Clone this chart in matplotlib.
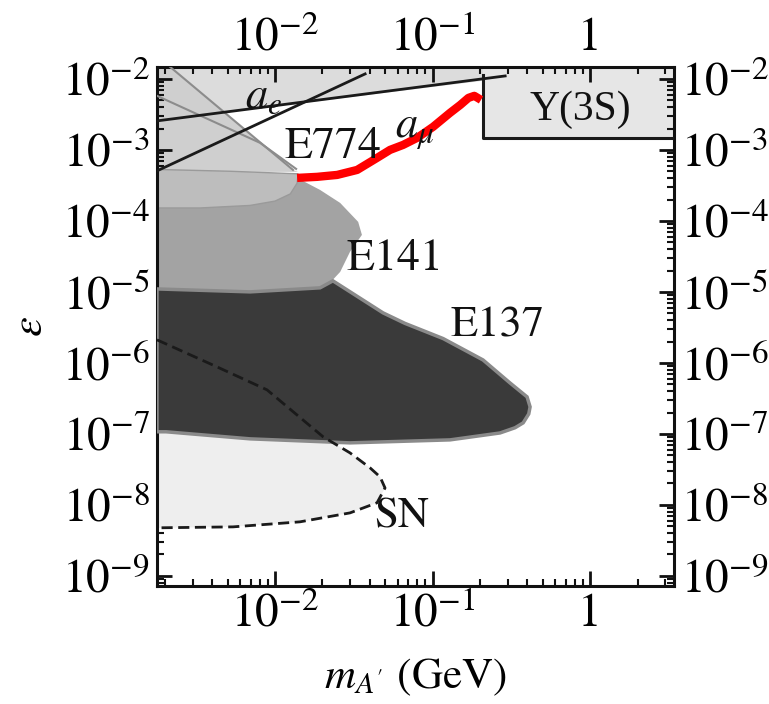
import matplotlib
matplotlib.use('Agg')
import matplotlib.pyplot as plt
from matplotlib.ticker import LogLocator, FixedLocator, FixedFormatter, NullFormatter

plt.rcParams['mathtext.fontset'] = 'stix'
plt.rcParams['font.family'] = ['STIXGeneral', 'DejaVu Serif']

# ---------------- data (m_A' in GeV, epsilon) ----------------
x_limits = [0.00178, 3.41]
y_limits = [7.2e-10, 0.0147]

x_ticks = [0.01, 0.1, 1.0]
x_ticklabels = [r'$10^{-2}$', r'$10^{-1}$', '1']
y_ticks = [1e-2, 1e-3, 1e-4, 1e-5, 1e-6, 1e-7, 1e-8, 1e-9]
y_ticklabels = [r'$10^{-2}$', r'$10^{-3}$', r'$10^{-4}$', r'$10^{-5}$',
                r'$10^{-6}$', r'$10^{-7}$', r'$10^{-8}$', r'$10^{-9}$']

# a_mu line and band above it
amu_m = [0.00178, 0.289]
amu_eps = [0.00256, 0.0110]
amu_band_m = [0.00178, 0.209, 0.209, 0.00178]
amu_band_eps = [0.0147, 0.0147, 0.0094, 0.00256]

# a_e line and region
ae_m = [0.00178, 0.0373]
ae_eps = [5.06e-4, 0.01175]
ae_region_m = [0.00178, 0.00216, 0.0130, 0.0140, 0.00178]
ae_region_eps = [0.0147, 0.0147, 5.22e-4, 4.9e-4, 4.9e-4]
ae_gray1_m = [0.00216, 0.0130]
ae_gray1_eps = [0.0147, 5.22e-4]
ae_gray2_m = [0.00178, 0.00803, 0.0136]
ae_gray2_eps = [5.77e-3, 1.256e-3, 5.4e-4]

# E774
e774_m = [0.00178, 0.00518, 0.0140, 0.0138, 0.0125, 0.0100, 0.00694, 0.00334, 0.00178]
e774_eps = [5.3e-4, 5.0e-4, 4.6e-4, 3.4e-4, 2.4e-4, 1.9e-4, 1.65e-4, 1.52e-4, 1.52e-4]

# E141
e141_m = [0.00178, 0.0060, 0.0138, 0.0193, 0.0259, 0.0337, 0.0356, 0.0299,
          0.0259, 0.0223, 0.0167, 0.00694, 0.00178]
e141_eps = [2.73e-4, 2.32e-4, 4.03e-4, 2.73e-4, 1.79e-4, 9.68e-5, 6.35e-5, 3.66e-5,
            1.91e-5, 1.34e-5, 1.0e-5, 9.07e-6, 9.68e-6]

# E137
e137_m = [0.00178, 0.00694, 0.0193, 0.0233, 0.0485, 0.0668, 0.1167, 0.209, 0.310,
          0.398, 0.416, 0.408, 0.376, 0.334, 0.268, 0.129, 0.0299, 0.00694,
          0.00203, 0.00178]
e137_eps = [1.10e-5, 1.0e-5, 1.14e-5, 1.43e-5, 5.06e-6, 3.60e-6, 2.20e-6, 1.10e-6,
            5.22e-7, 3.32e-7, 2.40e-7, 1.91e-7, 1.43e-7, 1.22e-7, 1.03e-7, 8.23e-8,
            7.47e-8, 8.51e-8, 1.07e-7, 1.07e-7]

# Supernova (SN) boundary
sn_m = [0.00178, 0.00428, 0.00889, 0.0202, 0.0299, 0.0401, 0.0464, 0.0499,
        0.0444, 0.0299, 0.0144, 0.00541, 0.00178]
sn_eps = [2.11e-6, 8.78e-7, 4.17e-7, 9.08e-8, 5.40e-8, 3.32e-8, 2.48e-8, 1.73e-8,
          1.07e-8, 7.71e-9, 5.77e-9, 4.90e-9, 4.75e-9]

# Upsilon(3S) box
y3s_m = [0.209, 3.41]
y3s_eps = [1.476e-3, 0.0147]
y3s_edge_m = [0.209, 0.209, 3.41]
y3s_edge_eps = [0.01138, 1.476e-3, 1.476e-3]

# red curve
red_m = [0.0138, 0.0185, 0.0248, 0.0332, 0.0444, 0.0537, 0.0650, 0.0798, 0.1007,
         0.129, 0.150, 0.169, 0.184, 0.203]
red_eps = [4.03e-4, 4.17e-4, 4.44e-4, 5.22e-4, 7.71e-4, 1.0e-3, 1.175e-3, 1.476e-3,
           2.11e-3, 3.32e-3, 4.30e-3, 5.4e-3, 5.77e-3, 5.06e-3]

# labels: (text, m, eps, size)
labels = [
    (r'$a_e$', 0.0084, 5.4e-3, 32),
    (r'$a_\mu$', 0.0774, 1.795e-3, 32),
    ('E774', 0.0233, 1.067e-3, 33),
    ('E141', 0.0578, 2.83e-5, 33),
    ('E137', 0.257, 3.32e-6, 32),
    ('SN', 0.064, 6.78e-9, 31),
]
y3s_label = ('\u03a5(3S)', 0.865, 3.66e-3, 30)

# ---------------- figure ----------------
fig = plt.figure(figsize=(7.69, 7.04), dpi=100)
ax = fig.add_axes([157 / 769, 1 - 586 / 704, 517 / 769, 519 / 704])
ax.set_xscale('log')
ax.set_yscale('log')
ax.set_xlim(*x_limits)
ax.set_ylim(*y_limits)

ax.fill(amu_band_m, amu_band_eps, color='#dcdcdc', lw=0, zorder=1)
ax.fill_between(y3s_m, y3s_eps[0], y3s_eps[1], color='#e6e6e6', lw=0, zorder=1)
ax.fill(ae_region_m, ae_region_eps, color='#cfcfcf', lw=0, zorder=1.5)
ax.fill(e141_m, e141_eps, color='#a3a3a3', lw=0, zorder=2)
ax.fill(e774_m, e774_eps, facecolor='#bdbdbd', edgecolor='#9a9a9a', lw=1, zorder=2.5)
ax.fill(sn_m, sn_eps, color='#eeeeee', lw=0, zorder=2)
ax.fill(e137_m, e137_eps, facecolor='#3a3a3a', edgecolor='#8a8a8a', lw=2.5, zorder=3)

ax.plot(ae_gray1_m, ae_gray1_eps, color='#8c8c8c', lw=1.5, zorder=3.2)
ax.plot(ae_gray2_m, ae_gray2_eps, color='#8c8c8c', lw=1.5, zorder=3.2)
ax.plot(sn_m, sn_eps, color='#1a1a1a', lw=2, ls=(0, (4, 2)), zorder=3.5)
ax.plot(amu_m, amu_eps, color='#1a1a1a', lw=2, zorder=4)
ax.plot(ae_m, ae_eps, color='#1a1a1a', lw=2, zorder=4)
ax.plot(y3s_edge_m, y3s_edge_eps, color='#1a1a1a', lw=2.2, zorder=4)
ax.plot(red_m, red_eps, color='#ff0000', lw=6, solid_capstyle='butt', zorder=5)

for txt, m, e, s in labels:
    ax.text(m, e, txt, fontsize=s, ha='center', va='center', color='#111111', zorder=6)
ax.text(y3s_label[1], y3s_label[2], y3s_label[0], fontsize=y3s_label[3],
        family=['Liberation Serif', 'DejaVu Serif'], ha='center', va='center',
        color='#111111', zorder=6)

# ticks
for axis_obj, ticks, tl in ((ax.xaxis, x_ticks, x_ticklabels), (ax.yaxis, y_ticks, y_ticklabels)):
    axis_obj.set_major_locator(FixedLocator(ticks))
    axis_obj.set_major_formatter(FixedFormatter(tl))
    axis_obj.set_minor_locator(LogLocator(base=10, subs=range(2, 10), numticks=20))
    axis_obj.set_minor_formatter(NullFormatter())

ax.tick_params(which='both', direction='in', top=True, right=True,
               labeltop=True, labelright=True, color='#111111')
ax.tick_params(which='major', length=11, width=2.0, labelsize=34, pad=5)
ax.tick_params(which='minor', length=5, width=1.5)
for sp in ax.spines.values():
    sp.set_linewidth(2.2)
    sp.set_color('#111111')

ax.set_xlabel(r"$m_{A'}$ (GeV)", fontsize=31, labelpad=14)
ax.set_ylabel(r'$\epsilon$', fontsize=32, labelpad=8)

fig.savefig('out.png', dpi=100)
